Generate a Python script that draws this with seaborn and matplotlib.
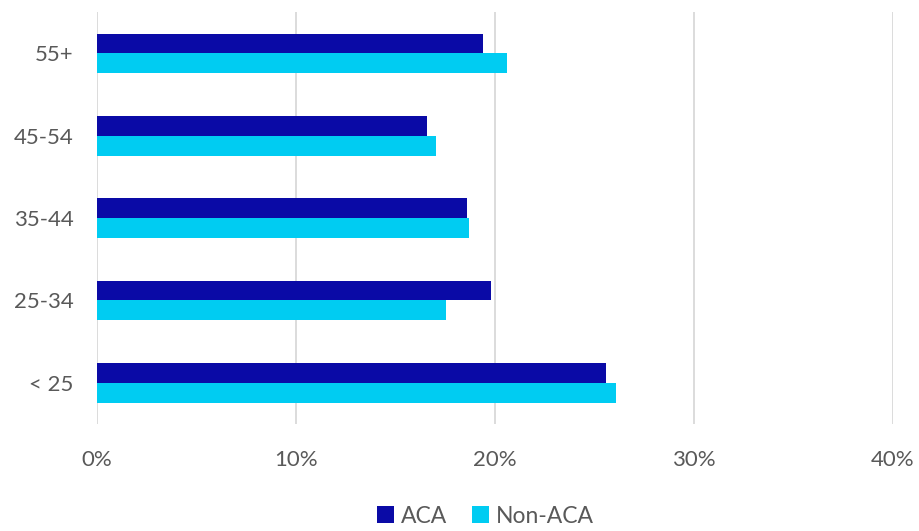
import matplotlib
matplotlib.use("Agg")
import matplotlib.pyplot as plt
import seaborn as sns
import pandas as pd
from matplotlib.ticker import FuncFormatter

categories = ["55+", "45-54", "35-44", "25-34", "< 25"]
aca = [19.4, 16.6, 18.6, 19.8, 25.6]
non_aca = [20.6, 17.05, 18.7, 17.55, 26.1]
series = ["ACA", "Non-ACA"]
x_ticks = [0, 10, 20, 30, 40]

df = pd.DataFrame({
    "age": categories * 2,
    "value": aca + non_aca,
    "group": [series[0]] * len(categories) + [series[1]] * len(categories),
})

sns.set_style("white")
plt.rcParams["font.family"] = ["Lato", "DejaVu Sans"]

fig = plt.figure(figsize=(9.19, 5.31), dpi=100)
ax = fig.add_axes([0.1055, 0.2015, 0.866, 0.7755])

sns.barplot(data=df, y="age", x="value", hue="group", order=categories,
            hue_order=series, palette=["#0A0AA6", "#00CCF2"], orient="h",
            width=0.48, ax=ax, saturation=1, legend=True, linewidth=0)

ax.set_xlim(0, 40)
ax.set_xticks(x_ticks)
ax.xaxis.set_major_formatter(FuncFormatter(lambda v, p: f"{v:.0f}%"))
ax.grid(axis="x", color="#D9D9D9", linewidth=1.3)
ax.set_axisbelow(True)
for s in ax.spines.values():
    s.set_visible(False)
ax.set_xlabel("")
ax.set_ylabel("")
ax.tick_params(axis="both", length=0, labelsize=16, labelcolor="#595959")
ax.tick_params(axis="x", pad=19)
ax.tick_params(axis="y", pad=17)

h, l = ax.get_legend_handles_labels()
ax.legend(h, l, loc="lower center", bbox_to_anchor=(0.488, -0.272), ncol=2,
          frameon=False, fontsize=16.5, handlelength=0.75, handleheight=0.75,
          handletextpad=0.3, columnspacing=1.1, labelcolor="#595959",
          borderaxespad=0)

fig.savefig("out.png", dpi=100)
